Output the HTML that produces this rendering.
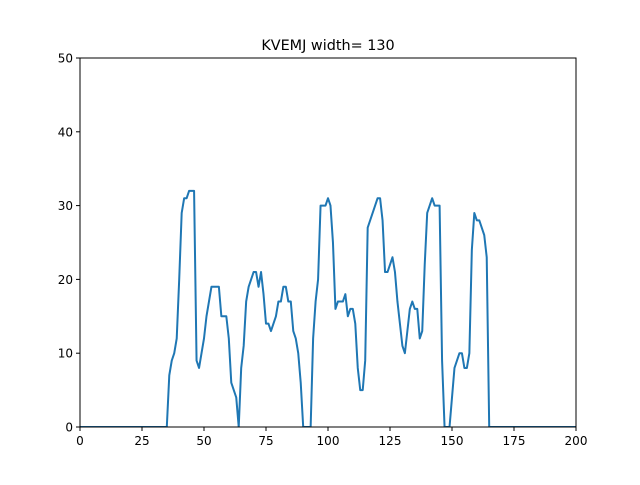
<!DOCTYPE html>
<html><head><meta charset="utf-8"><style>
body{margin:0;background:#fff;font-family:"Liberation Sans","DejaVu Sans",sans-serif;}
svg text{font-family:"DejaVu Sans","Liberation Sans",sans-serif;}
</style></head><body>
<svg id="chart" width="640" height="480" xmlns="http://www.w3.org/2000/svg">
<rect width="640" height="480" fill="#fff"/>
<text x="328" y="50" font-size="14.4" text-anchor="middle">KVEMJ width= 130</text>
<g id="plot"></g>
</svg>
<script>
const xTicks = [0,25,50,75,100,125,150,175,200];
const yTicks = [0,10,20,30,40,50];
const xValues = [];
for (let i = 0; i <= 200; i++) xValues.push(i);
const seriesStart = 35;
const seriesMid = [0,7,9,10,12,20,29,31,31,32,32,32,9,8,10,12,15,17,19,19,19,19,15,15,15,12,6,5,4,0,8,11,17,19,20,21,21,19,21,18,14,14,13,14,15,17,17,19,19,17,17,13,12,10,6,0,0,0,0,12,17,20,30,30,30,31,30,25,16,17,17,17,18,15,16,16,14,8,5,5,9,27,28,29,30,31,31,28,21,21,22,23,21,17,14,11,10,13,16,17,16,16,12,13,22,29,30,31,30,30,30,9,0,0,0,4,8,9,10,10,8,8,10,24,29,28,28,27,26,23,0];
const yValues = xValues.map(x => (x < seriesStart ? 0 : (x - seriesStart < seriesMid.length ? seriesMid[x - seriesStart] : 0)));

const L=80,R=576,T=58,B=427;
const xs = v => L + (v-0)/(200-0)*(R-L);
const ys = v => B - (v-0)/(50-0)*(B-T);
const NS="http://www.w3.org/2000/svg";
const g=document.getElementById('plot');
function mk(tag, attrs){const e=document.createElementNS(NS,tag);for(const k in attrs)e.setAttribute(k,attrs[k]);g.appendChild(e);return e;}

const line = mk('polyline',{points:xValues.map((x,i)=>xs(x)+','+ys(yValues[i])).join(' '),fill:'none',stroke:'#1f77b4','stroke-width':2,'stroke-linejoin':'round','clip-path':'url(#clip)'});


const defs=document.createElementNS(NS,'defs');defs.innerHTML='<clipPath id="clip"><rect x="80" y="58" width="496" height="369"/></clipPath>';g.appendChild(defs);

const frame = mk('rect',{x:L,y:T,width:R-L,height:B-T,fill:'none',stroke:'#000','stroke-width':1});



xTicks.forEach(t=>{
  const tk=mk('line',{x1:xs(t),x2:xs(t),y1:B,y2:B+4,stroke:'#000'});
  
  
  const lb=mk('text',{x:xs(t),y:B+18,'font-size':12,'text-anchor':'middle'});
  lb.textContent=t;
  
  
});
yTicks.forEach(t=>{
  const tk=mk('line',{x1:L-4,x2:L,y1:ys(t),y2:ys(t),stroke:'#000'});
  
  
  const lb=mk('text',{x:L-7,y:ys(t)+4.5,'font-size':12,'text-anchor':'end'});
  lb.textContent=t;
  
  
});
</script>
</body></html>
